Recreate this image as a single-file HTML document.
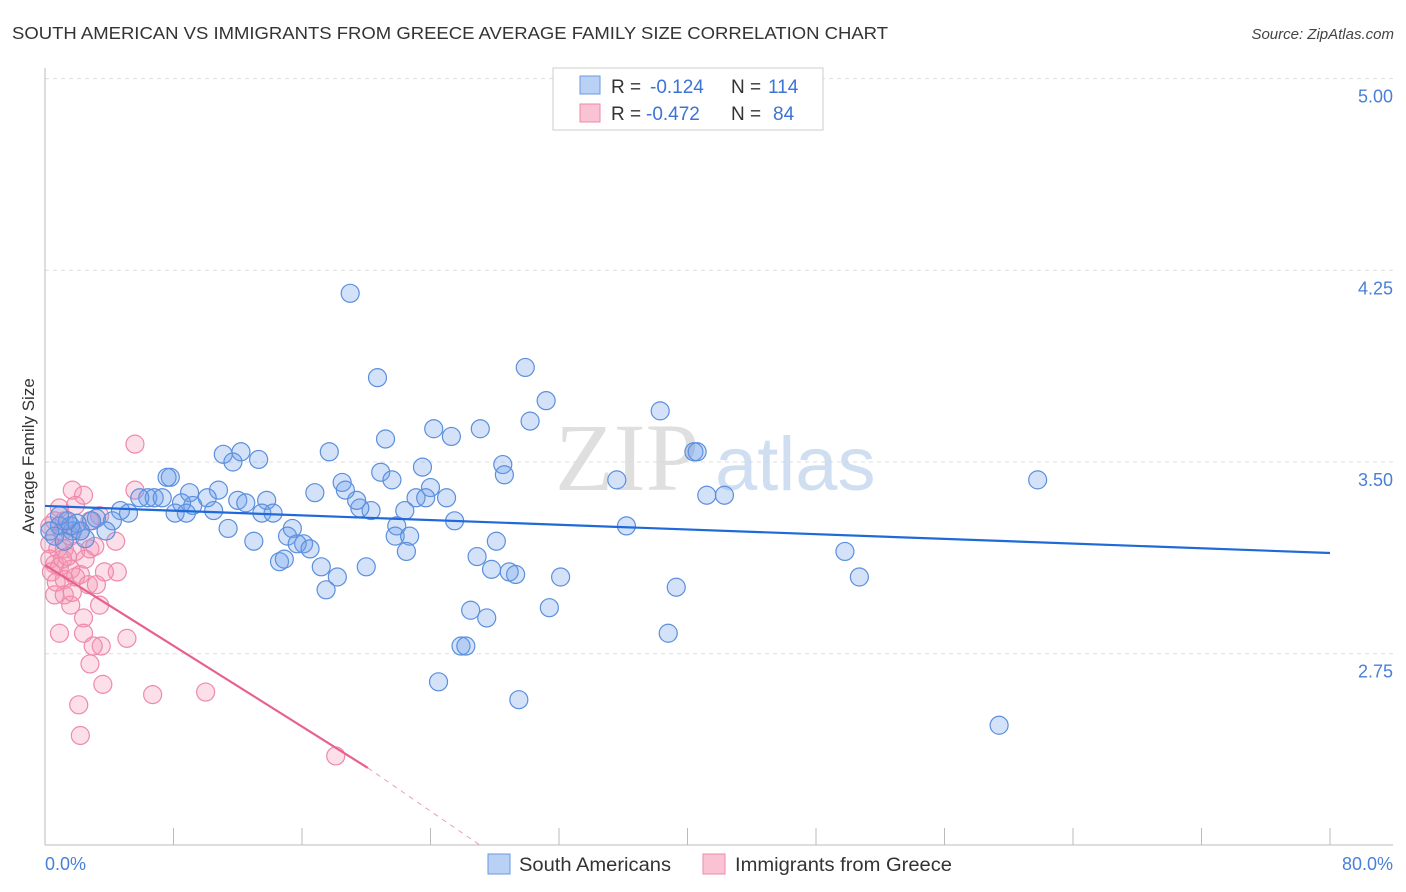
<!DOCTYPE html>
<html><head><meta charset="utf-8"><style>
body{margin:0;background:#fff;font-family:"Liberation Sans",sans-serif;}
svg{display:block}
</style></head><body>
<svg id="chart" width="1406" height="892" viewBox="0 0 1406 892" xmlns="http://www.w3.org/2000/svg">
<text x="12" y="39" font-size="17.5" fill="#333" textLength="876" lengthAdjust="spacingAndGlyphs">SOUTH AMERICAN VS IMMIGRANTS FROM GREECE AVERAGE FAMILY SIZE CORRELATION CHART</text>
<text x="1394" y="39" font-size="15" fill="#444" font-style="italic" text-anchor="end">Source: ZipAtlas.com</text>
<g id="grid"></g>
<g>
<text x="555" y="490" font-size="96" font-family="Liberation Serif,serif" fill="#d8d8d8" opacity="0.8">ZIP</text>
<text x="715" y="490" font-size="76" fill="#c5d6ee" opacity="0.8">atlas</text>
</g>
<line x1="45" y1="68" x2="45" y2="845" stroke="#bbb"/>
<line x1="45" y1="845" x2="1393" y2="845" stroke="#bbb"/>
<g id="xticks"></g>
<g id="yticks"></g>
<text x="45" y="870" font-size="18" fill="#4a7fd8">0.0%</text>
<text x="1393" y="870" font-size="18" fill="#4a7fd8" text-anchor="end">80.0%</text>
<text transform="translate(34,456) rotate(-90)" font-size="17" fill="#333" text-anchor="middle">Average Family Size</text>
<g id="pts-pink"></g>
<g id="pts-blue"></g>
<g id="trends"></g>
<g>
<rect x="553" y="68" width="270" height="62" fill="#fff" stroke="#ccc"/>
<rect x="580" y="76" width="20" height="18" fill="#b9d1f5" stroke="#6b9ae0"/>
<rect x="580" y="104" width="20" height="18" fill="#f9c3d3" stroke="#ee8aaa"/>
<text x="611" y="93" font-size="19" fill="#333">R =</text>
<text x="650" y="93" font-size="19" fill="#3b73d6">-0.124</text>
<text x="731" y="93" font-size="19" fill="#333">N =</text>
<text x="768" y="93" font-size="19" fill="#3b73d6">114</text>
<text x="611" y="120" font-size="19" fill="#333">R =</text>
<text x="646" y="120" font-size="19" fill="#3b73d6">-0.472</text>
<text x="731" y="120" font-size="19" fill="#333">N =</text>
<text x="773" y="120" font-size="19" fill="#3b73d6">84</text>
</g>
<g>
<rect x="488" y="854" width="22" height="20" fill="#b9d1f5" stroke="#6b9ae0"/>
<text x="519" y="871" font-size="19" fill="#333" textLength="152" lengthAdjust="spacingAndGlyphs">South Americans</text>
<rect x="703" y="854" width="22" height="20" fill="#f9c3d3" stroke="#ee8aaa"/>
<text x="735" y="871" font-size="19" fill="#333" textLength="217" lengthAdjust="spacingAndGlyphs">Immigrants from Greece</text>
</g>
</svg>
<script>
const yTicks=[5.00,4.25,3.50,2.75];
const xTickVals=[0,8,16,24,32,40,48,56,64,72,80];
const blueX=[19.0,20.7,29.9,31.2,38.3,30.2,27.1,24.2,25.3,21.2,17.7,11.1,12.2,11.7,13.3,7.8,7.6,28.5,23.5,20.9,28.6,21.6,18.5,35.6,40.4,40.6,61.8,24.0,23.1,23.7,25.0,22.4,20.3,19.6,19.4,16.8,18.7,13.8,12.0,10.8,9.0,10.1,9.2,6.4,6.8,5.9,7.3,8.5,8.1,8.8,10.5,12.5,13.5,14.2,5.2,4.7,4.2,3.2,2.9,2.0,1.7,1.6,3.8,2.5,0.9,0.6,11.4,13.0,15.4,15.1,16.1,15.7,16.5,14.6,14.9,17.2,18.2,17.5,20.0,21.9,21.8,22.7,22.5,25.5,28.1,26.9,27.8,28.9,29.3,32.1,36.2,41.2,42.3,49.8,50.7,39.3,26.5,27.5,31.4,38.8,25.9,26.2,24.5,29.5,59.4,1.2,1.4,0.9,0.3,2.2];
const blueY=[4.16,3.83,3.87,3.74,3.70,3.66,3.63,3.63,3.60,3.59,3.54,3.53,3.54,3.50,3.51,3.44,3.44,3.49,3.48,3.46,3.45,3.43,3.42,3.43,3.54,3.54,3.43,3.40,3.36,3.36,3.36,3.31,3.31,3.32,3.35,3.38,3.39,3.35,3.35,3.39,3.38,3.36,3.33,3.36,3.36,3.36,3.36,3.34,3.30,3.30,3.31,3.34,3.30,3.30,3.30,3.31,3.27,3.28,3.27,3.26,3.23,3.25,3.23,3.20,3.25,3.21,3.24,3.19,3.24,3.21,3.18,3.18,3.16,3.11,3.12,3.09,3.05,3.00,3.09,3.25,3.21,3.21,3.15,3.27,3.19,3.13,3.08,3.07,3.06,3.05,3.25,3.37,3.37,3.15,3.05,3.01,2.92,2.89,2.93,2.83,2.78,2.78,2.64,2.57,2.47,3.19,3.27,3.29,3.23,3.23];
const pinkX=[5.6,1.7,2.4,5.6,0.9,1.9,3.4,0.6,1.2,2.8,0.3,1.1,1.6,2.2,4.4,0.3,0.8,1.2,1.9,2.8,3.1,0.3,0.6,0.9,1.6,2.2,1.2,1.9,4.5,3.7,2.7,3.2,0.6,1.2,1.6,3.4,2.4,0.9,2.4,5.1,3.5,3.0,2.8,3.6,6.7,10.0,2.1,2.2,18.1,1.1,1.4,2.5,0.4,0.7,1.7];
const pinkY=[3.57,3.39,3.37,3.39,3.32,3.33,3.29,3.27,3.27,3.27,3.25,3.23,3.21,3.23,3.19,3.18,3.16,3.16,3.15,3.16,3.17,3.12,3.10,3.09,3.08,3.06,3.04,3.05,3.07,3.07,3.02,3.02,2.98,2.98,2.94,2.94,2.89,2.83,2.83,2.81,2.78,2.78,2.71,2.63,2.59,2.60,2.55,2.43,2.35,3.12,3.13,3.12,3.07,3.03,2.99];
const blueTrend=[[0,3.328],[80,3.144]];
const pinkTrend=[[0,3.097],[20.1,2.303]];
const pinkTrendDashEnd=[27.1,2.0];

const NS="http://www.w3.org/2000/svg";
const xs=v=>45+v*(1285/80);
const ys=v=>462-(v-3.5)*255.6;
function mk(tag,attrs,parent){const e=document.createElementNS(NS,tag);for(const k in attrs)e.setAttribute(k,attrs[k]);parent.appendChild(e);return e;}
const grid=document.getElementById('grid'),yt=document.getElementById('yticks'),xt=document.getElementById('xticks');
yTicks.forEach(t=>{
  const l=mk('line',{x1:45,x2:1393,y1:ys(t),y2:ys(t),stroke:'#ddd','stroke-dasharray':'4,4'},grid);
  
  
  const tx=mk('text',{x:1393,y:ys(t)+24,'font-size':18,fill:'#4a7fd8','text-anchor':'end'},yt);
  
  
  tx.textContent=t.toFixed(2);
});
xTickVals.forEach(t=>{
  const l=mk('line',{x1:xs(t),x2:xs(t),y1:828,y2:845,stroke:'#bbb'},xt);
  
  
});
function pts(X,Y,g,fill,stroke,name){
  X.forEach((x,i)=>{
    const c=mk('circle',{cx:xs(x),cy:ys(Y[i]),r:9,fill:fill,stroke:stroke,'stroke-width':1.2},document.getElementById(g));
    
    
  });
}
pts(pinkX,pinkY,'pts-pink','rgba(244,150,180,0.3)','#ee8aaa','greece-point');
pts(blueX,blueY,'pts-blue','rgba(110,160,235,0.3)','#5b8fdd','south-american-point');
const tr=document.getElementById('trends');
const b=mk('line',{x1:xs(blueTrend[0][0]),y1:ys(blueTrend[0][1]),x2:xs(blueTrend[1][0]),y2:ys(blueTrend[1][1]),stroke:'#1f6ad8','stroke-width':2.2},tr);


const p=mk('line',{x1:xs(pinkTrend[0][0]),y1:ys(pinkTrend[0][1]),x2:xs(pinkTrend[1][0]),y2:ys(pinkTrend[1][1]),stroke:'#e8608c','stroke-width':2.2},tr);


const pd=mk('line',{x1:xs(pinkTrend[1][0]),y1:ys(pinkTrend[1][1]),x2:xs(pinkTrendDashEnd[0]),y2:ys(pinkTrendDashEnd[1]),stroke:'#e8a0b8','stroke-width':1,'stroke-dasharray':'5,5'},tr);


</script>
</body></html>
